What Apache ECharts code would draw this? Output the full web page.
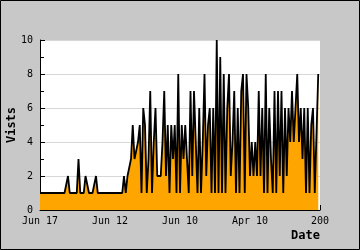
<!DOCTYPE html>
<html>
<head>
<meta charset="utf-8">
<script src="https://cdn.jsdelivr.net/npm/echarts@6/dist/echarts.min.js"></script>
<style>
html,body{margin:0;padding:0;background:#c8c8c8;}
#c{width:360px;height:250px;}
</style>
</head>
<body>
<div id="c"></div>
<script>
// tick labels shown every 40 categories
const tickLabels = ['Jun 17', 'Jun 12', 'Jun 10', 'Apr 10', '200'];
const tickEvery = 40;
const categoryCount = 161;
const categories = Array.from({length: categoryCount}, (_, i) => String(i));

// visits per period
const visits = [
  1,1,1,1,1,1,1,1,1,1,1,1,1,1,1,1,
  2,
  1,1,1,1,1,
  3,
  1,1,1,
  2,2,
  1,1,1,1,
  2,
  1,1,1,1,1,1,1,1,1,1,1,1,1,1,1,
  2,1,2,2,3,5,3,3,4,5,
  1,6,5,1,3,7,1,4,6,2,
  2,2,4,7,2,5,1,5,3,5,
  1,8,1,5,3,5,5,1,7,2,
  7,7,1,6,1,4,8,2,5,6,
  1,6,1,10,1,9,1,8,1,6,
  8,2,4,7,1,6,1,7,8,1,
  8,6,2,4,2,4,2,7,2,6,
  1,8,1,6,3,1,7,1,7,2,
  7,1,6,2,6,4,7,4,6,8,
  4,6,3,6,1,6,1,5,6,1,
  1,8
];

const yMin = 0, yMax = 10, yInterval = 2;
const FONT = 'DejaVu Sans Mono';

const chart = echarts.init(document.getElementById('c'), null, {renderer: 'canvas'});
chart.setOption({
  backgroundColor: '#c8c8c8',
  animation: false,
  title: {
    text: 'Date',
    right: 40,
    top: 230,
    padding: 0,
    textStyle: {fontFamily: FONT, fontSize: 12, fontWeight: 'bold', color: '#000'}
  },
  grid: {
    left: 40, right: 40, top: 40, bottom: 40,
    containLabel: false,
    outerBoundsMode: 'none',
    show: true, backgroundColor: '#ffffff', borderWidth: 0
  },
  xAxis: {
    type: 'category',
    data: categories,
    boundaryGap: false,
    axisLine: {show: true, lineStyle: {color: '#000', width: 1}},
    axisTick: {show: true, inside: true, length: 5, interval: tickEvery - 1, lineStyle: {color: '#000'}},
    axisLabel: {
      show: true, interval: tickEvery - 1, margin: 6,
      fontFamily: FONT, fontSize: 10, color: '#000',
      formatter: (v, idx) => tickLabels[Math.round(idx / tickEvery)] || ''
    },
    splitLine: {show: false}
  },
  yAxis: {
    type: 'value',
    min: yMin, max: yMax, interval: yInterval,
    name: 'Vists',
    nameLocation: 'middle',
    nameGap: 22,
    nameMoveOverlap: false,
    nameTextStyle: {fontFamily: FONT, fontSize: 12, fontWeight: 'bold', color: '#000'},
    axisLine: {show: true, lineStyle: {color: '#000', width: 1}},
    axisTick: {show: true, inside: true, length: 5, lineStyle: {color: '#000'}},
    minorTick: {show: true, splitNumber: 2, length: 4, lineStyle: {color: '#000'}},
    axisLabel: {margin: 7, fontFamily: FONT, fontSize: 10, color: '#000'},
    splitLine: {show: true, lineStyle: {color: '#d8d8d8', width: 1}}
  },
  series: [{
    type: 'line',
    data: visits,
    showSymbol: false,
    symbol: 'none',
    lineStyle: {color: '#000', width: 1.8},
    areaStyle: {color: '#ffa500', opacity: 1},
    itemStyle: {color: '#000'}
  }],
  graphic: [{
    type: 'rect',
    silent: true,
    z: 100,
    shape: {x: 0.5, y: 0.5, width: 359, height: 249},
    style: {fill: null, stroke: '#000', lineWidth: 1}
  }]
});
</script>
</body>
</html>
